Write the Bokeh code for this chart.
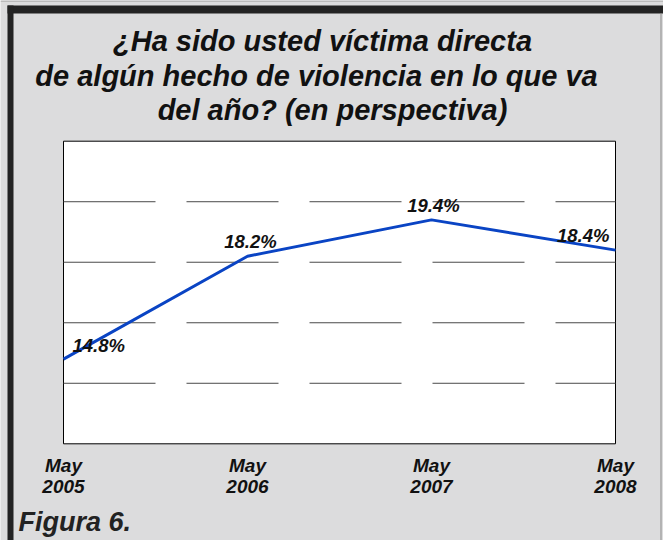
from bokeh.plotting import figure
from bokeh.models import Range1d, Label, BoxAnnotation
from bokeh.core.properties import value
from bokeh.embed import file_html
from bokeh.resources import INLINE

# ---- data ----
years = [2005, 2006, 2007, 2008]
tick_months = ["May", "May", "May", "May"]
tick_years = ["2005", "2006", "2007", "2008"]
victims_pct = [14.8, 18.2, 19.4, 18.4]
label_texts = ["14.8%", "18.2%", "19.4%", "18.4%"]
grid_values = [14, 16, 18, 20]
y_min, y_max = 12, 22
title_lines = ["¿Ha sido usted víctima directa",
               "de algún hecho de violencia en lo que va",
               "del año? (en perspectiva)"]
caption = "Figura 6."

# ---- layout (pixels) ----
W, H = 663, 540
PLOT_L, PLOT_R, PLOT_T, PLOT_B = 63.0, 615.0, 140.7, 443.3
FONT = "Liberation Sans"
BG = "#dcdcdd"
DARK = "#232323"
SHIFT = -6  # text baseline correction

xs = (PLOT_R - PLOT_L) / (years[-1] - years[0])      # px per year
ys = (PLOT_B - PLOT_T) / (y_max - y_min)              # px per unit
x_start = years[0] - PLOT_L / xs
x_end = x_start + W / xs
y_start = y_min - (H - PLOT_B) / ys
y_end = y_start + H / ys


def px2x(px):
    return x_start + px / xs


def py2y(py):
    return y_start + (H - py) / ys


p = figure(width=W, height=H, output_backend="svg", toolbar_location=None,
           x_range=Range1d(x_start, x_end), y_range=Range1d(y_start, y_end),
           min_border=0, min_border_left=0, min_border_right=0,
           min_border_top=0, min_border_bottom=0)
p.axis.visible = False
p.grid.visible = False
p.outline_line_color = None
p.background_fill_color = BG
p.border_fill_color = BG

# outer frame: dark top/left, thin grey right
for (l, r, t, b, c) in [(0, W, 0, 1, "#9a9a9a"),
                        (7, W, 5, 13, DARK),
                        (7, 13, 5, H, DARK),
                        (660, 661, 13, H, "#8a8a8a")]:
    p.add_layout(BoxAnnotation(left=px2x(l), right=px2x(r), top=py2y(t), bottom=py2y(b),
                               fill_color=c, fill_alpha=1, line_color=None,
                               level="underlay"))

# plot area
p.quad(left=[years[0]], right=[years[-1]], bottom=[y_min], top=[y_max],
       fill_color="white", line_color="black", line_width=1)

# dashed grid lines
p.segment(x0=[years[0]] * len(grid_values), x1=[years[-1]] * len(grid_values),
          y0=grid_values, y1=grid_values,
          line_color="#4a4a4a", line_width=1, line_dash="92 31")

# series
p.line(years, victims_pct, line_color="#0a44c4", line_width=3)

aligns = ["left", "center", "center", "right"]
x_offs = [9, 3, 2, -6]
y_offs = [-8, -9, -8, -9]
for i in range(len(years)):
    p.text(x=[years[i]], y=[victims_pct[i]], text=[label_texts[i]],
           text_font=value(FONT), text_font_style="bold italic",
           text_font_size="18.5px", text_color="#111111",
           text_align=aligns[i], text_baseline="alphabetic",
           x_offset=x_offs[i], y_offset=y_offs[i] + SHIFT)

# category labels under the plot
p.text(x=years, y=[y_min] * len(years), text=tick_months,
       text_font=value(FONT), text_font_style="bold italic",
       text_font_size="19px", text_color="#111111",
       text_align="center", text_baseline="alphabetic", y_offset=28 + SHIFT)
p.text(x=years, y=[y_min] * len(years), text=tick_years,
       text_font=value(FONT), text_font_style="bold italic",
       text_font_size="19px", text_color="#111111",
       text_align="center", text_baseline="alphabetic", y_offset=49 + SHIFT)

# title
centers = [322, 316, 332]
baselines = [46, 81, 115]
for line, cx, by in zip(title_lines, centers, baselines):
    p.add_layout(Label(x=px2x(cx), y=py2y(by + SHIFT), text=line, text_font=FONT,
                       text_font_style="bold italic", text_font_size="29px",
                       text_color="#111111", text_align="center",
                       text_baseline="alphabetic"))

p.add_layout(Label(x=px2x(18), y=py2y(527 + SHIFT), text=caption, text_font=FONT,
                   text_font_style="bold italic", text_font_size="27px",
                   text_color="#222222", text_align="left",
                   text_baseline="alphabetic"))

open("out.html", "w").write(file_html(p, INLINE))
